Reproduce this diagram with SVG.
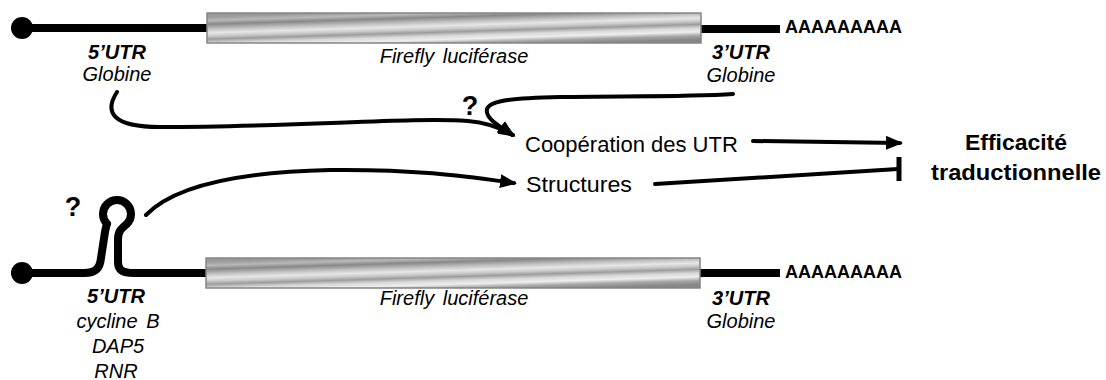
<svg xmlns="http://www.w3.org/2000/svg" width="1106" height="380" viewBox="0 0 1106 380">
<style>
  text { font-family: "Liberation Sans", Arial, sans-serif; fill: #000; }
  .lbl { font-size: 20px; font-style: italic; text-anchor: middle; }
  .lblb { font-size: 20px; font-style: italic; font-weight: bold; text-anchor: middle; }
  .polya { font-size: 18px; font-weight: bold; }
  .q { font-size: 27px; font-weight: bold; text-anchor: middle; }
  .main { font-size: 22px; }
  .eff { font-size: 22px; font-weight: bold; text-anchor: middle; }
  .rna { fill: none; stroke: #000; stroke-width: 8; stroke-linejoin: round; }
  .bar { stroke: #858585; stroke-width: 1.5; fill: url(#metal); }
  .conn { fill: none; stroke: #000; stroke-width: 4; stroke-linecap: round; }
</style>
<defs>
  <linearGradient id="metal" x1="0.25" y1="0" x2="0.75" y2="1">
    <stop offset="0" stop-color="#9a9a9a"/>
    <stop offset="0.1" stop-color="#b8b8b8"/>
    <stop offset="0.2" stop-color="#888888"/>
    <stop offset="0.32" stop-color="#bebebe"/>
    <stop offset="0.43" stop-color="#e6e6e6"/>
    <stop offset="0.52" stop-color="#c8c8c8"/>
    <stop offset="0.6" stop-color="#9c9c9c"/>
    <stop offset="0.7" stop-color="#d8d8d8"/>
    <stop offset="0.8" stop-color="#eeeeee"/>
    <stop offset="0.9" stop-color="#a6a6a6"/>
    <stop offset="1" stop-color="#888888"/>
  </linearGradient>
  <marker id="ah" markerUnits="userSpaceOnUse" markerWidth="20" markerHeight="16" refX="14" refY="7" orient="auto">
    <path d="M0,0 L17,7 L0,14 z" fill="#000"/>
  </marker>
</defs>

<g id="mrna-top">
  <circle cx="22" cy="28" r="11" fill="#000"/>
  <line x1="22" y1="28" x2="208" y2="28" class="rna"/>
  <line x1="700" y1="29" x2="780" y2="29" class="rna"/>
  <rect x="207" y="13" width="494" height="30" class="bar"/>
  <text x="785" y="33" class="polya">AAAAAAAAA</text>
</g>
<g id="label-top-5utr">
  <text x="117" y="59" class="lblb">5’UTR</text>
  <text x="117" y="81" class="lbl">Globine</text>
</g>
<g id="label-top-ff">
  <text x="454" y="63" class="lbl" word-spacing="3">Firefly luciférase</text>
</g>
<g id="label-top-3utr">
  <text x="741" y="59" class="lblb">3’UTR</text>
  <text x="741" y="82" class="lbl">Globine</text>
</g>

<g id="mrna-bottom">
  <circle cx="22" cy="273" r="11" fill="#000"/>
  <path class="rna" d="M22 273 H84 C96 273 100 268 101 258 L105 232 C106 228 106 226 107.1 223.9 A14 14 0 1 1 126.9 223.9 C121 229 118 231 118 240 L118 262 C118 270 122 273 134 273 H208"/>
  <line x1="699" y1="273" x2="780" y2="273" class="rna"/>
  <rect x="206" y="258" width="494" height="30" class="bar"/>
  <text x="785" y="278" class="polya">AAAAAAAAA</text>
  <text x="73" y="216" class="q">?</text>
</g>
<g id="label-bottom-5utr">
  <text x="116" y="303" class="lblb">5’UTR</text>
  <text x="118" y="328" class="lbl" word-spacing="3">cycline B</text>
  <text x="118" y="353" class="lbl">DAP5</text>
  <text x="116" y="378" class="lbl">RNR</text>
</g>
<g id="label-bottom-ff">
  <text x="454" y="305" class="lbl" word-spacing="3">Firefly luciférase</text>
</g>
<g id="label-bottom-3utr">
  <text x="741" y="305" class="lblb">3’UTR</text>
  <text x="741" y="328" class="lbl">Globine</text>
</g>

<g id="node-coop">
  <text x="525" y="152" class="main">Coopération des UTR</text>
</g>
<g id="node-struct">
  <text x="526" y="192" class="main" textLength="106" lengthAdjust="spacingAndGlyphs">Structures</text>
</g>
<g id="node-eff">
  <text x="1016" y="150" class="eff" textLength="102" lengthAdjust="spacingAndGlyphs">Efficacité</text>
  <text x="1016" y="180" class="eff" textLength="170" lengthAdjust="spacingAndGlyphs">traductionnelle</text>
</g>
<g id="q-top">
  <text x="470" y="115" class="q">?</text>
</g>

<g id="connectors">
  <path class="conn" d="M117 92 C104 112 112 127 160 127 C300 127 410 117 468 121 C490 123 503 129 513 135" marker-end="url(#ah)"/>
  <path class="conn" d="M733 94 C690 97 620 96 560 97 C515 98 490 100 487 109 C485 119 500 126 512 135" marker-end="url(#ah)"/>
  <path class="conn" d="M146 215 C175 185 240 172 330 170 C420 169 470 177 514 183" marker-end="url(#ah)"/>
  <path class="conn" d="M753 141 L900 143" stroke-width="5" marker-end="url(#ah)"/>
  <path class="conn" d="M655 184 L898 169" stroke-width="4.5" stroke-linecap="butt"/>
  <line x1="899" y1="157" x2="899" y2="181" stroke="#000" stroke-width="5"/>
</g>
</svg>
